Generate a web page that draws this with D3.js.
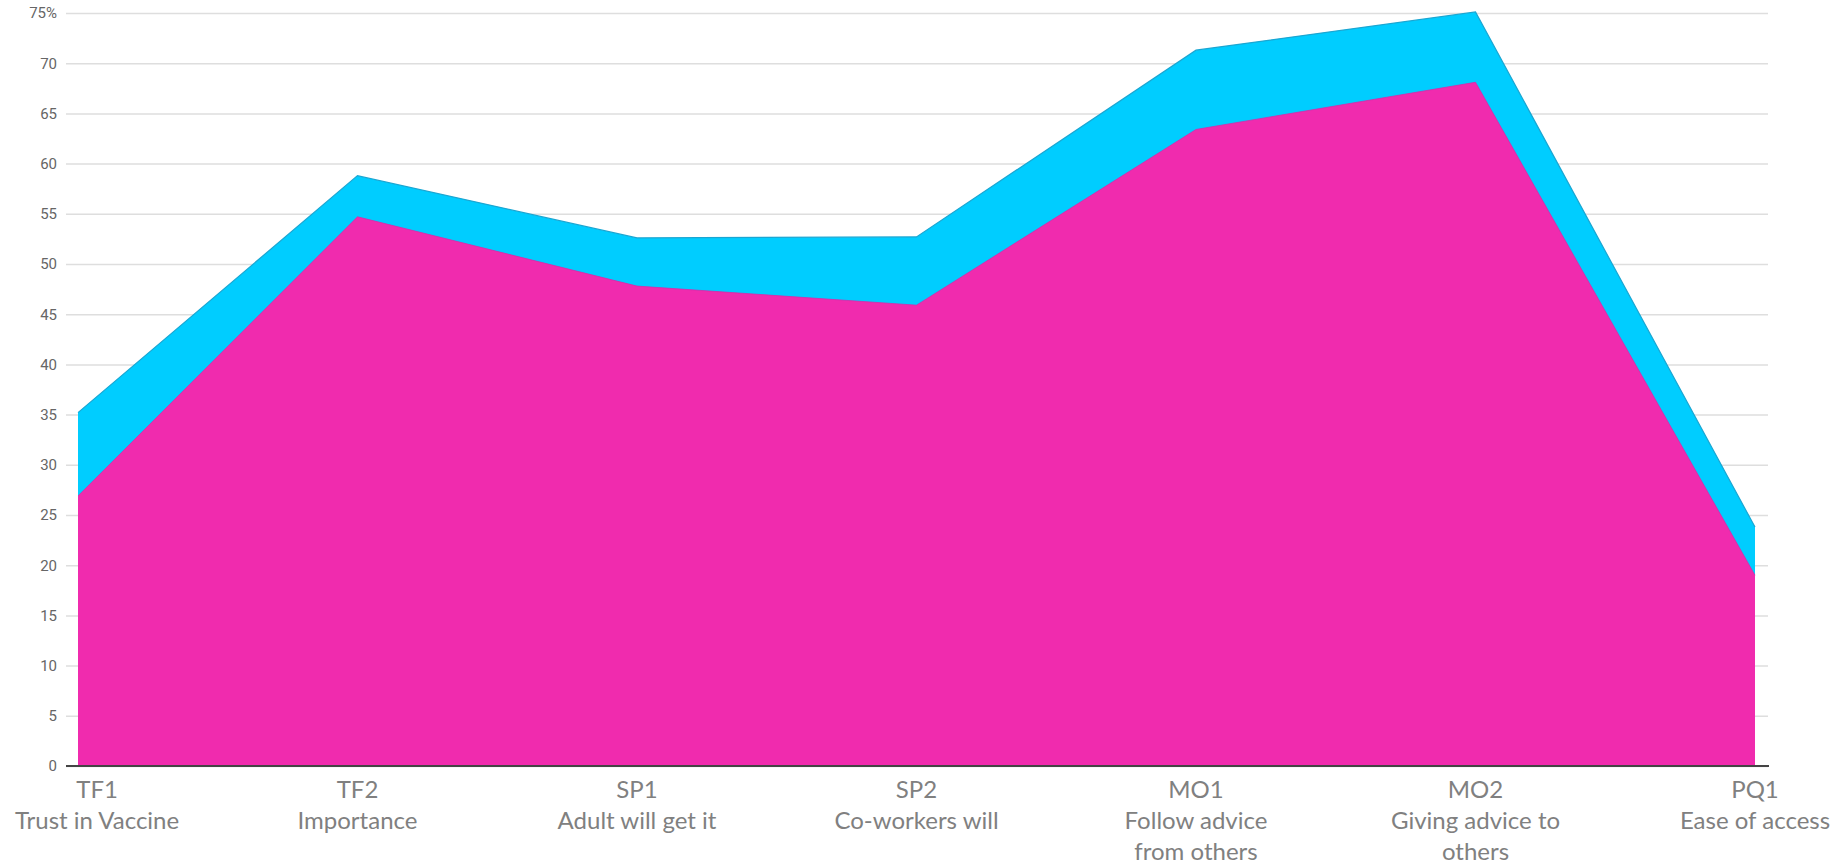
<!DOCTYPE html>
<html>
<head>
<meta charset="utf-8">
<script src="https://cdn.jsdelivr.net/npm/d3@7"></script>
<style>
   body { margin: 0; background: #fff; }
   .tick-label { font: 15px Roboto, sans-serif; fill: #666; }
   .cat-label { font: 24px Lato, "Open Sans", sans-serif; fill: #808080; }
</style>
</head>
<body>
<svg id="chart" width="1840" height="865"></svg>
<script>
// categories along the x axis, two label lines each
var categories = ['TF1', 'TF2', 'SP1', 'SP2', 'MO1', 'MO2', 'PQ1'];
var subLabels = [
   ['Trust in Vaccine'],
   ['Importance'],
   ['Adult will get it'],
   ['Co-workers will'],
   ['Follow advice', 'from others'],
   ['Giving advice to', 'others'],
   ['Ease of access']
];

// values in %
var blueValues = [35.2, 58.8, 52.6, 52.7, 71.3, 75.1, 23.8];
var pinkValues = [26.9, 54.7, 47.8, 45.9, 63.4, 68.1, 19.0];

var yTicks = [0, 5, 10, 15, 20, 25, 30, 35, 40, 45, 50, 55, 60, 65, 70, 75];

var svg = d3.select('#chart');

var bounds = {
   gridLeft: 66,
   gridRight: 1768,
   plotLeft: 78,
   plotRight: 1755,
   top: 13,
   bottom: 766
};

var x = d3.scalePoint()
   .domain(categories)
   .range([bounds.plotLeft, bounds.plotRight]);

var y = d3.scaleLinear()
   .domain([0, 75])
   .range([bounds.bottom, bounds.top]);

// gridlines + tick labels
var yAxis = d3.axisLeft(y)
   .tickValues(yTicks)
   .tickSize(-(bounds.gridRight - bounds.gridLeft))
   .tickPadding(9)
   .tickFormat(function (d) {
      return d === 75 ? d + '%' : d;
   });

var yAxisGroup = svg.append('g')
   .attr('transform', 'translate(' + bounds.gridLeft + ',0)')
   .call(yAxis);

yAxisGroup.select('.domain').remove();
yAxisGroup.selectAll('.tick line')
   .attr('stroke', '#dedede')
   .attr('stroke-width', 1.5);
yAxisGroup.selectAll('.tick text')
   .attr('class', 'tick-label')
   .attr('fill', null);

// areas
function areaFor(values) {
   return d3.area()
      .x(function (d, i) { return x(categories[i]); })
      .y0(y(0))
      .y1(function (d) { return y(d); })(values);
}

function lineFor(values) {
   return d3.line()
      .x(function (d, i) { return x(categories[i]); })
      .y(function (d) { return y(d); })(values);
}

svg.append('path')
   .attr('d', areaFor(blueValues))
   .attr('fill', '#00cdff');

svg.append('path')
   .attr('d', lineFor(blueValues))
   .attr('fill', 'none')
   .attr('stroke', '#1aa6d2')
   .attr('stroke-width', 1.2);

svg.append('path')
   .attr('d', areaFor(pinkValues))
   .attr('fill', '#f02bae');

svg.append('path')
   .attr('d', lineFor(pinkValues))
   .attr('fill', 'none')
   .attr('stroke', '#d82aa8')
   .attr('stroke-width', 0.8);

// baseline
svg.append('line')
   .attr('x1', bounds.gridLeft)
   .attr('x2', bounds.gridRight + 1)
   .attr('y1', y(0))
   .attr('y2', y(0))
   .attr('stroke', '#444')
   .attr('stroke-width', 2);

// category labels
var labelGroup = svg.append('g');

categories.forEach(function (cat, i) {
   var lines = [cat].concat(subLabels[i]);
   var text = labelGroup.append('text')
      .attr('class', 'cat-label')
      .attr('text-anchor', 'middle')
      .attr('x', x(cat))
      .attr('y', 798);

   lines.forEach(function (line, j) {
      text.append('tspan')
         .attr('x', x(cat))
         .attr('dy', j === 0 ? 0 : 31)
         .text(line);
   });

   // keep labels inside the picture
   var box = text.node().getBBox();
   var shift = 0;
   if (box.x < 15) shift = 15 - box.x;
   if (box.x + box.width > 1832) shift = 1832 - (box.x + box.width);
   if (shift !== 0) {
      text.selectAll('tspan').attr('x', x(cat) + shift);
   }
});
</script>
</body>
</html>
